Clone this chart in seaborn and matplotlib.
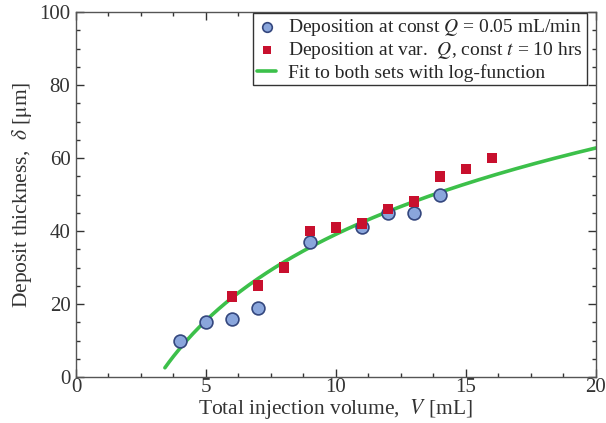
import numpy as np
import pandas as pd
import matplotlib
matplotlib.use("Agg")
import matplotlib.pyplot as plt
import seaborn as sns
from matplotlib.ticker import MultipleLocator

# Data
vol_const_q = [4, 5, 6, 7, 9, 11, 12, 13, 14]
thick_const_q = [10, 15, 16, 19, 37, 41, 45, 45, 50]

vol_var_q = [6, 7, 8, 9, 10, 11, 12, 13, 14, 15, 16]
thick_var_q = [22, 25, 30, 40, 41, 42, 46, 48, 55, 57, 60]

# log-function fit d = a + b*ln(V), coefficients
fit_a = -39.4
fit_b = 34.1
fit_range = [3.42, 20]

sns.set_theme(style="ticks")
plt.rcParams['font.family'] = ['Liberation Serif', 'DejaVu Serif']
plt.rcParams['mathtext.fontset'] = 'stix'

df_a = pd.DataFrame({'V': vol_const_q, 'd': thick_const_q})
df_b = pd.DataFrame({'V': vol_var_q, 'd': thick_var_q})

xf = np.linspace(fit_range[0], fit_range[1], 200)
df_fit = pd.DataFrame({'V': xf, 'd': fit_a + fit_b * np.log(xf)})

fig = plt.figure(figsize=(6.06, 4.23), dpi=100)
ax = fig.add_axes([0.1254, 0.1087, 0.858, 0.8629])

sns.lineplot(data=df_fit, x='V', y='d', ax=ax, color='#3cc04a', linewidth=2.6,
             label='Fit to both sets with log-function', zorder=2)
sns.scatterplot(data=df_a, x='V', y='d', ax=ax, marker='o', s=85,
                color='#8aa6dc', edgecolor='#34477e', linewidth=1.2,
                label=r'Deposition at const $Q$ = 0.05 mL/min', zorder=3)
sns.scatterplot(data=df_b, x='V', y='d', ax=ax, marker='s', s=60,
                color='#c8102e', edgecolor='none',
                label=r'Deposition at var.  $Q$, const $t$ = 10 hrs', zorder=4)

ax.set_xlim(0, 20)
ax.set_ylim(0, 100)
ax.xaxis.set_major_locator(MultipleLocator(5))
ax.xaxis.set_minor_locator(MultipleLocator(1.25))
ax.yaxis.set_major_locator(MultipleLocator(20))
ax.yaxis.set_minor_locator(MultipleLocator(5))
ax.tick_params(which='both', direction='in', top=True, right=True,
               labelsize=15, color='#333333', labelcolor='#333333')
ax.tick_params(axis='x', pad=1)
ax.tick_params(axis='y', pad=4)
ax.tick_params(which='major', length=6, width=1)
ax.tick_params(which='minor', length=3, width=1)
for s in ax.spines.values():
    s.set_color('#555555')
    s.set_linewidth(1)

ax.set_xlabel(r'Total injection volume,  $V$ [mL]', fontsize=15.5, labelpad=0,
              color='#333333')
ax.set_ylabel(r'Deposit thickness,  $\delta$ [$\mathrm{\mu}$m]', fontsize=15.5,
              labelpad=4, color='#333333')

handles, labels = ax.get_legend_handles_labels()
order = [1, 2, 0]
leg = ax.legend([handles[i] for i in order], [labels[i] for i in order],
                loc='upper right', bbox_to_anchor=(0.982, 0.997),
                fontsize=14, frameon=True, fancybox=False, markerscale=0.75,
                edgecolor='#333333', framealpha=1, borderpad=0.2,
                handlelength=1.0, handletextpad=0.6, labelspacing=0.12,
                borderaxespad=0)
leg.get_frame().set_linewidth(1)

fig.savefig('out.png', dpi=100)
